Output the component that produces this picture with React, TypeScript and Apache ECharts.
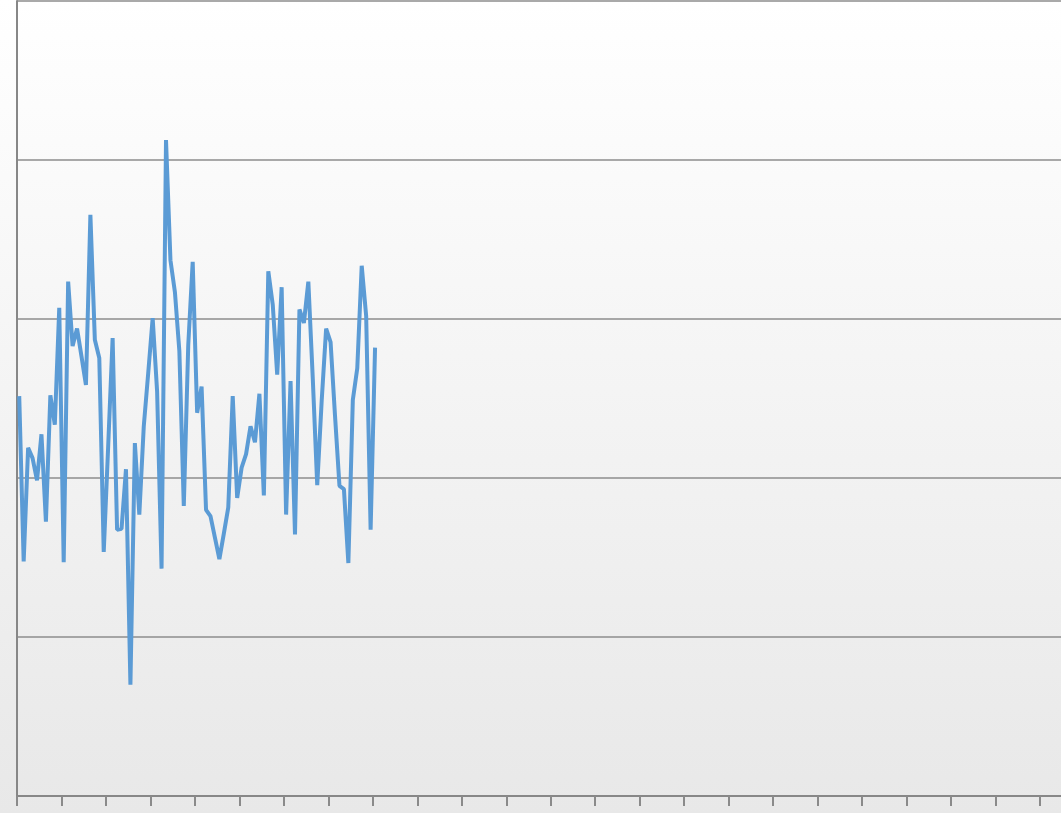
import React, { useEffect, useRef } from "react";
import * as echarts from "echarts";

// total category slots on the x axis (chart is wider than the visible window)
const categoryCount = 240;
const categories: string[] = Array.from({ length: categoryCount }, (_, i) => String(i + 1));

// series values (y axis 0..100)
const values: number[] = [
  50.3, 29.5, 43.8, 42.5, 39.7, 45.5, 34.5, 50.4, 46.7, 61.4,
  29.4, 64.7, 56.6, 58.8, 55.3, 51.7, 73.1, 57.4, 55.1, 30.7,
  44.0, 57.6, 33.5, 33.6, 41.1, 14.0, 44.4, 35.4, 46.5, 53.2,
  60.1, 50.9, 28.6, 82.5, 67.4, 63.4, 56.0, 36.5, 56.7, 67.2,
  48.2, 51.5, 36.0, 35.2, 32.5, 29.8, 33.0, 36.3, 50.3, 37.5,
  41.3, 43.0, 46.5, 44.5, 50.6, 37.8, 66.0, 61.8, 53.0, 64.0,
  35.4, 52.2, 32.9, 61.2, 59.5, 64.7, 52.5, 39.1, 49.7, 58.8,
  57.1, 47.8, 39.0, 38.6, 29.3, 49.8, 53.8, 66.7, 60.4, 33.5,
  56.4,
];

const yMin = 0;
const yMax = 100;
const yInterval = 20;

export default function App() {
  const ref = useRef<HTMLDivElement>(null);
  useEffect(() => {
    if (!ref.current) return;
    const chart = echarts.init(ref.current, undefined, { renderer: "svg" });
    chart.setOption({
      animation: false,
      backgroundColor: new echarts.graphic.LinearGradient(0, 0, 0, 1, [
        { offset: 0, color: "#ffffff" },
        { offset: 1, color: "#e8e8e8" },
      ]),
      grid: { left: 17, top: 1, bottom: 17, width: 1067.5 },
      xAxis: {
        type: "category",
        data: categories,
        boundaryGap: true,
        axisLine: { show: true, lineStyle: { color: "#878787", width: 2 } },
        axisTick: { show: true, interval: 9, length: 10, lineStyle: { color: "#8a8a8a", width: 2 } },
        axisLabel: { show: false },
        splitLine: { show: false },
      },
      yAxis: {
        type: "value",
        min: yMin,
        max: yMax,
        interval: yInterval,
        axisLine: { show: true, lineStyle: { color: "#878787", width: 2 } },
        axisTick: { show: false },
        axisLabel: { show: false },
        splitLine: { show: true, lineStyle: { color: "#8c8c8c", width: 1.5 } },
      },
      series: [
        {
          type: "line",
          data: values,
          symbol: "none",
          smooth: false,
          lineStyle: { color: "#5b9bd5", width: 4 },
        },
      ],
    });
    return () => chart.dispose();
  }, []);
  return (
    <div style={{ position: "absolute", left: 0, top: 0, width: 1061, height: 813, overflow: "hidden" }}>
      <div ref={ref} style={{ width: 1100, height: 813 }} />
    </div>
  );
}
